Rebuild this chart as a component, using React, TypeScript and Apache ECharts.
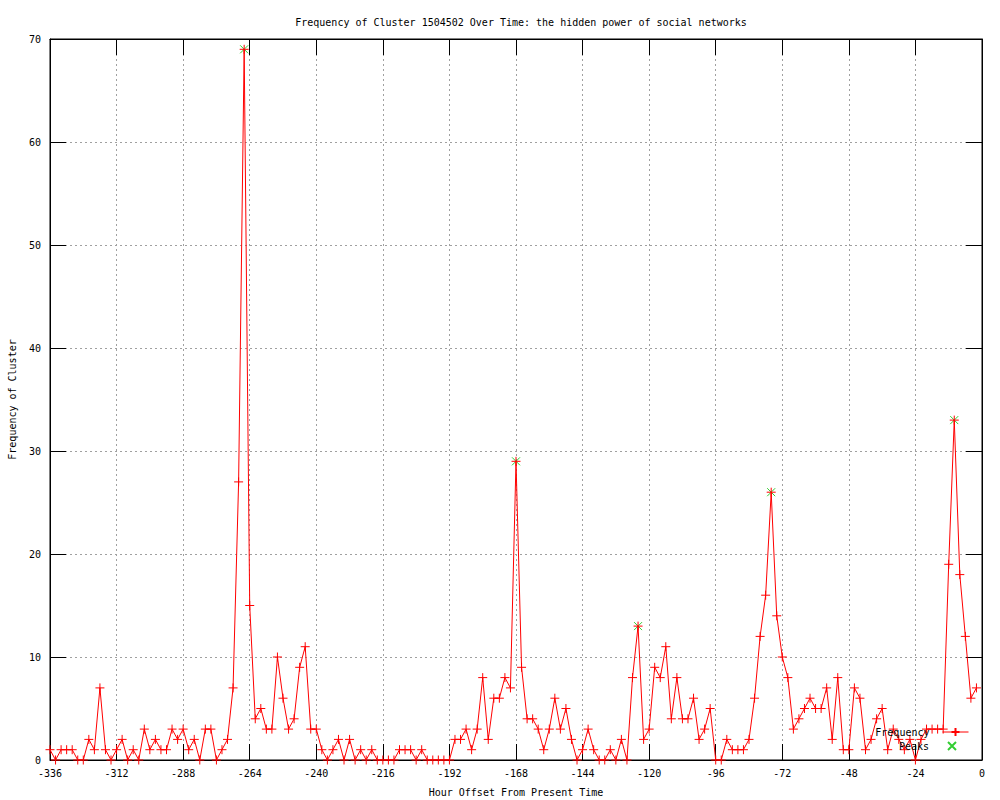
import React, { useEffect, useRef } from "react";
import * as echarts from "echarts";

const hours: number[] = [];
for (let h = -336; h <= -2; h += 2) hours.push(h);

const frequency: number[] = [
  1, 0, 1, 1, 1, 0, 0, 2, 1, 7, 1, 0, 1, 2, 0, 1, 0, 3, 1, 2, 1, 1, 3, 2, 3, 1, 2, 0,
  3, 3, 0, 1, 2, 7, 27, 69, 15, 4, 5, 3, 3, 10, 6, 3, 4, 9, 11, 3, 3, 1, 0, 1, 2, 0, 2, 0,
  1, 0, 1, 0, 0, 0, 0, 1, 1, 1, 0, 1, 0, 0, 0, 0, 0, 2, 2, 3, 1, 3, 8, 2, 6, 6, 8, 7,
  29, 9, 4, 4, 3, 1, 3, 6, 3, 5, 2, 0, 1, 3, 1, 0, 0, 1, 0, 2, 0, 8, 13, 2, 3, 9, 8, 11,
  4, 8, 4, 4, 6, 2, 3, 5, 0, 0, 2, 1, 1, 1, 2, 6, 12, 16, 26, 14, 10, 8, 3, 4, 5, 6, 5, 5,
  7, 2, 8, 1, 1, 7, 6, 1, 2, 4, 5, 1, 3, 2, 1, 2, 0, 2, 3, 3, 3, 3, 19, 33, 18, 12, 6, 7,
];

const peakHours: number[] = [-266, -168, -124, -76, -10];
const peakValues: number[] = [69, 29, 13, 26, 33];

const TITLE = "Frequency of Cluster 1504502 Over Time: the hidden power of social networks";
const X_NAME = "Hour Offset From Present Time";
const Y_NAME = "Frequency of Cluster";

const FONT = "'DejaVu Sans Mono', 'Liberation Mono', monospace";
const PLUS = "path://M0,5L10,5M5,0L5,10";
const CROSS = "path://M0,0L10,10M10,0L0,10";

export default function App() {
  const ref = useRef<HTMLDivElement>(null);
  useEffect(() => {
    if (!ref.current) return;
    const chart = echarts.init(ref.current, null, { renderer: "svg" });
    const freqData = hours.map((h, i) => [h, frequency[i]]);
    const peakData = peakHours.map((h, i) => [h, peakValues[i]]);
    const tickStyle = { show: true, inside: true, length: 16, lineStyle: { color: "#000", width: 1 } };
    const baseX = { type: "value" as const, min: -336, max: 0, interval: 24, gridIndex: 0 };
    const baseY = { type: "value" as const, min: 0, max: 70, interval: 10, gridIndex: 0 };
    chart.setOption({
      animation: false,
      backgroundColor: "#fff",
      title: {
        text: TITLE,
        left: 516,
        textAlign: "center",
        top: 12,
        textStyle: { fontFamily: FONT, fontSize: 10, fontWeight: "normal", color: "#000" },
      },
      grid: {
        left: 50,
        right: 18,
        top: 39,
        bottom: 40,
        containLabel: false,
        outerBoundsMode: "none",
        show: true,
        borderColor: "#000",
        borderWidth: 1,
        backgroundColor: "transparent",
      },
      legend: [
        {
          data: ["Frequency"],
          right: 31,
          top: 727,
          orient: "vertical",
          align: "right",
          itemWidth: 26,
          itemHeight: 10,
          padding: 0,
          lineStyle: { width: 1 },
          textStyle: { fontFamily: FONT, fontSize: 10, color: "#000", padding: [0, 8, 0, 0] },
        },
        {
          data: ["Peaks"],
          right: 43,
          top: 741,
          orient: "vertical",
          align: "right",
          itemWidth: 8,
          itemHeight: 8,
          padding: 0,
          textStyle: { fontFamily: FONT, fontSize: 10, color: "#000", padding: [0, 14, 0, 0] },
        },
      ],
      xAxis: [
        {
          ...baseX,
          position: "bottom",
          name: X_NAME,
          nameLocation: "middle",
          nameGap: 27,
          nameTextStyle: { fontFamily: FONT, fontSize: 10, color: "#000" },
          axisLine: { show: true, onZero: false, lineStyle: { color: "#000", width: 1 } },
          axisTick: tickStyle,
          axisLabel: { fontFamily: FONT, fontSize: 10, color: "#000", margin: 8 },
          splitLine: { show: true, lineStyle: { color: "#a0a0a0", type: [2, 3], width: 1 } },
        },
        {
          ...baseX,
          position: "top",
          axisLine: { show: true, onZero: false, lineStyle: { color: "#000", width: 1 } },
          axisTick: tickStyle,
          axisLabel: { show: false },
          splitLine: { show: false },
        },
      ],
      yAxis: [
        {
          ...baseY,
          position: "left",
          name: Y_NAME,
          nameLocation: "middle",
          nameRotate: 90,
          nameGap: 33,
          nameTextStyle: { fontFamily: FONT, fontSize: 10, color: "#000" },
          axisLine: { show: true, onZero: false, lineStyle: { color: "#000", width: 1 } },
          axisTick: tickStyle,
          axisLabel: { fontFamily: FONT, fontSize: 10, color: "#000", margin: 9 },
          splitLine: { show: true, lineStyle: { color: "#a0a0a0", type: [2, 3], width: 1 } },
        },
        {
          ...baseY,
          position: "right",
          axisLine: { show: true, onZero: false, lineStyle: { color: "#000", width: 1 } },
          axisTick: tickStyle,
          axisLabel: { show: false },
          splitLine: { show: false },
        },
      ],
      series: [
        {
          name: "Peaks",
          type: "scatter",
          data: peakData,
          symbol: CROSS,
          symbolSize: 8,
          itemStyle: { color: "#00c000", borderColor: "#00c000", borderWidth: 1 },
          z: 2,
        },
        {
          name: "Frequency",
          type: "line",
          data: freqData,
          symbol: PLUS,
          symbolSize: 9,
          showAllSymbol: true,
          lineStyle: { color: "#ff0000", width: 1 },
          itemStyle: { color: "#ff0000", borderColor: "#ff0000", borderWidth: 1 },
          z: 3,
        },
      ],
    });
    return () => chart.dispose();
  }, []);
  return (
    <div
      ref={ref}
      style={{ position: "fixed", left: 0, top: 0, width: 1000, height: 800, background: "#fff" }}
    />
  );
}
